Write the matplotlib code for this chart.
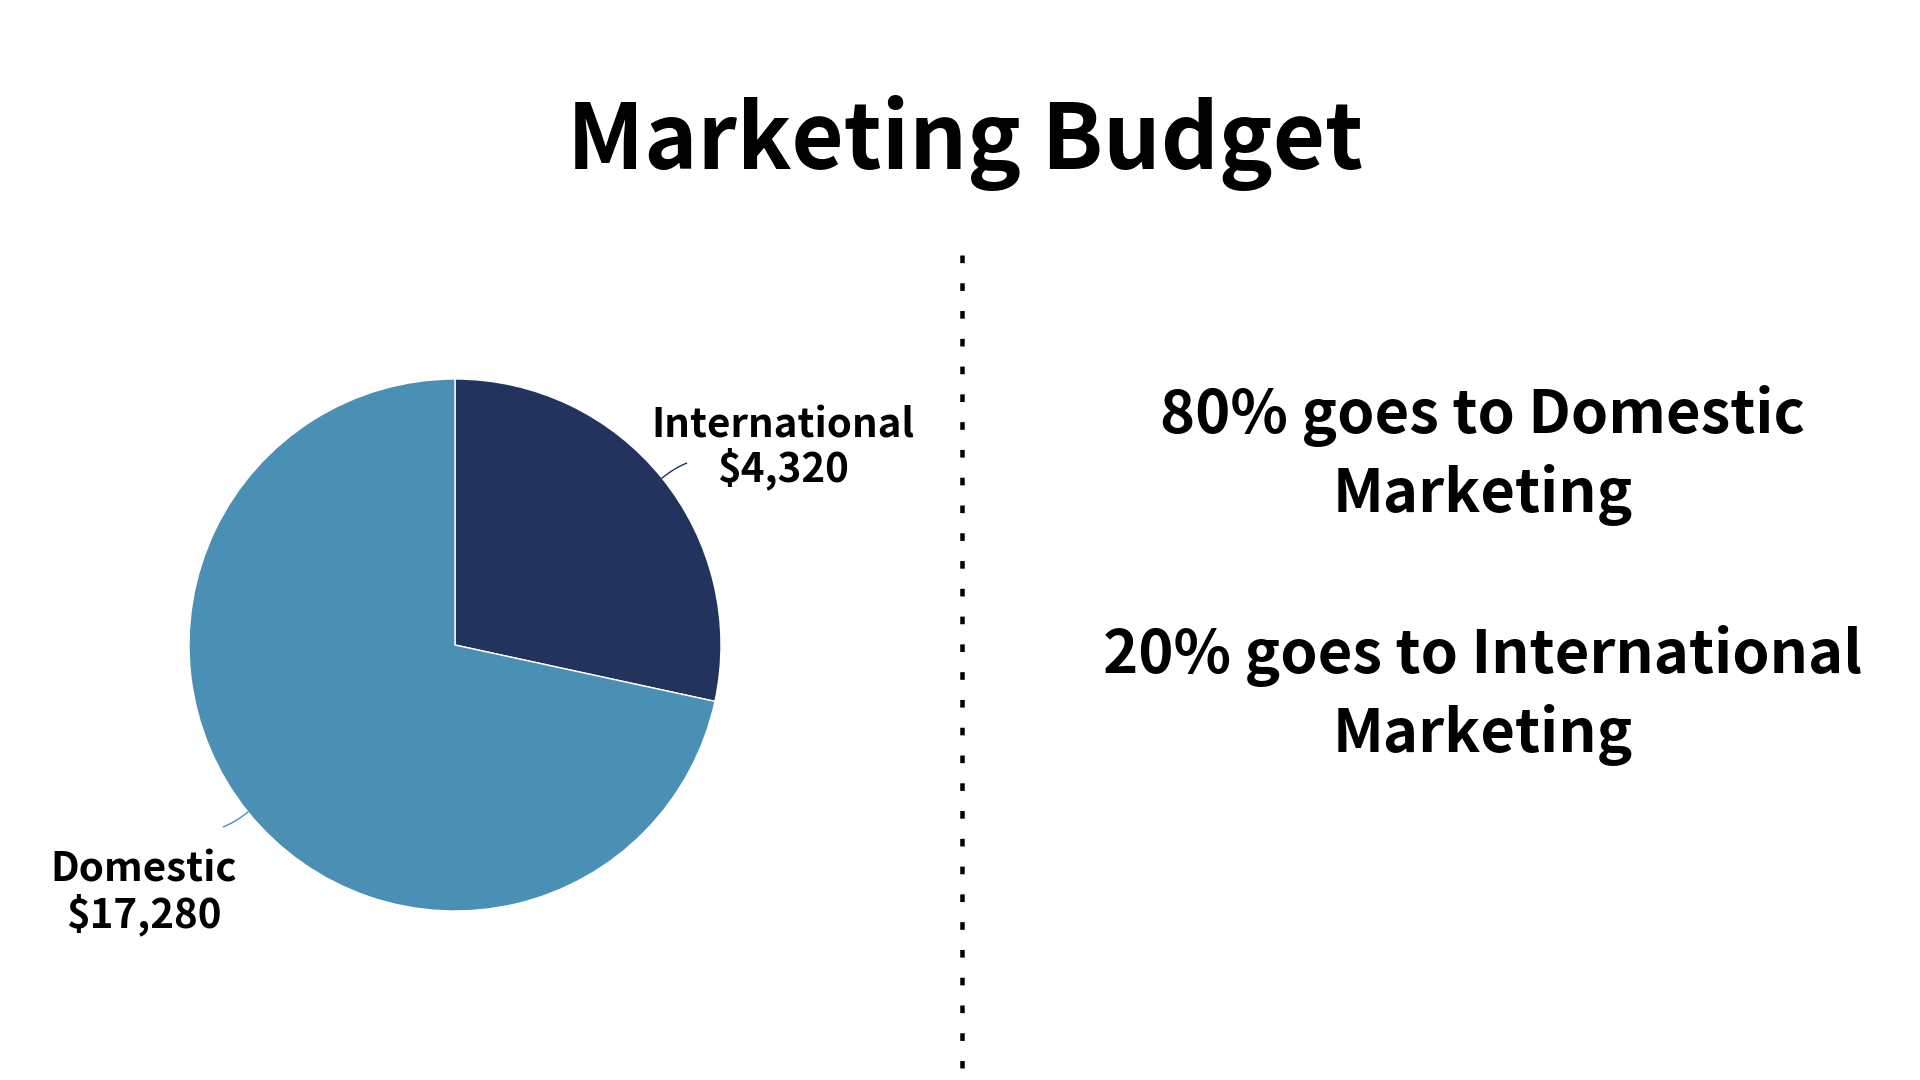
import numpy as np
import matplotlib.pyplot as plt
from matplotlib.lines import Line2D

plt.rcParams['font.family'] = ['Noto Sans CJK SC', 'DejaVu Sans']

# data
categories = ['International', 'Domestic']
amounts = [4320, 17280]
# wedge shares as drawn in the reference
drawn_share = [28.4, 71.6]
colors = ['#22345e', '#4a90b4']
summary_lines = [['80% goes to Domestic', 'Marketing'],
                 ['20% goes to International', 'Marketing']]
title = 'Marketing Budget'

W, H = 1920, 1080
fig = plt.figure(figsize=(W / 100, H / 100), dpi=100)

def fx(px):
    return px / W

def fy(py):
    return 1 - py / H

# pie, centre (455, 645) px, radius 266 px
cx, cy, R = 455, 645, 266
ax = fig.add_axes([fx(cx - R), fy(cy + R), 2 * R / W, 2 * R / H])
wedges, _ = ax.pie(drawn_share, colors=colors, startangle=90, counterclock=False,
                   radius=1, wedgeprops=dict(edgecolor='white', linewidth=1.0))
ax.set_xlim(-1, 1)
ax.set_ylim(-1, 1)
ax.set_aspect('equal')
ax.axis('off')

# leader lines from mid of each wedge
for w, col, side in zip(wedges, colors, [1, -1]):
    mid = np.deg2rad((w.theta1 + w.theta2) / 2)
    t = np.linspace(0, 1, 20)
    p0 = np.array([np.cos(mid), np.sin(mid)])
    p1 = p0 * 1.06
    p2 = p1 + np.array([side * 0.045, side * 0.018])
    pts = ((1 - t) ** 2)[:, None] * p0 + (2 * t * (1 - t))[:, None] * p1 + (t ** 2)[:, None] * p2
    ax.plot(pts[:, 0], pts[:, 1], color=col, lw=1.0, clip_on=False)

# slice labels
label_pos = {'International': (783, 438, 481), 'Domestic': (144, 882, 927)}
for name, amt in zip(categories, amounts):
    x, y1, y2 = label_pos[name]
    fig.text(fx(x), fy(y1), name, ha='center', va='baseline', fontsize=29, fontweight='bold')
    fig.text(fx(x), fy(y2), f'${amt:,}', ha='center', va='baseline', fontsize=29, fontweight='bold')

# title
fig.text(fx(965), fy(169), title, ha='center', va='baseline', fontsize=65, fontweight='bold')

# dotted divider
lw = 4.5 * 72 / 100
fig.add_artist(Line2D([fx(962), fx(962)], [fy(255), fy(1068)], transform=fig.transFigure,
                      color='black', lw=lw, linestyle=(0, (5.5 / lw, 14.5 / lw))))

# summary text
baselines = [[433, 512], [673, 752]]
for block, ys in zip(summary_lines, baselines):
    for line, y in zip(block, ys):
        fig.text(fx(1483), fy(y), line, ha='center', va='baseline', fontsize=43, fontweight='bold')

fig.savefig('out.png', dpi=100, facecolor='white')
